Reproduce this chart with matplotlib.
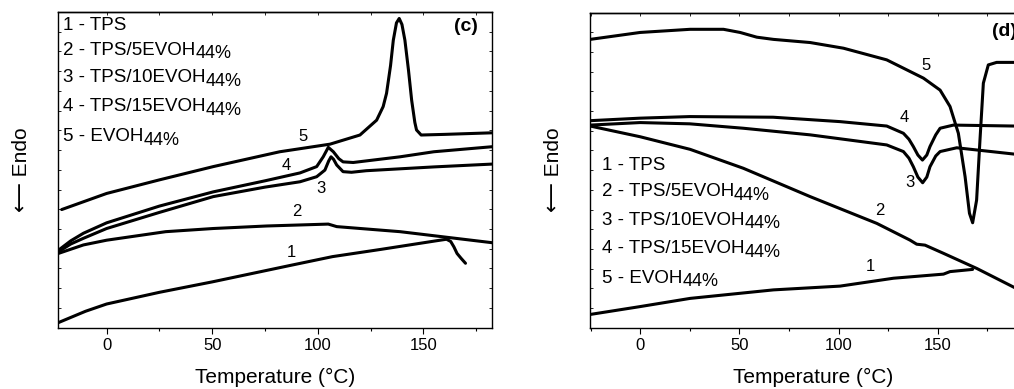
import numpy as np
import matplotlib.pyplot as plt
from matplotlib.ticker import MultipleLocator, FixedLocator, NullFormatter

plt.rcParams['font.family'] = ['Liberation Sans', 'DejaVu Sans']

# ---- panel (c): heating curves (arbitrary heat flow units) ----
c1_t = [-22.9, -10, 0, 25, 50, 87.6, 107, 130, 156, 161, 163, 164.5, 166, 168, 170]
c1_y = [1.6, 5.2, 7.5, 11.2, 14.5, 19.8, 22.5, 24.8, 27.5, 28, 27.3, 25.6, 23.5, 21.9, 20.4]

c2_t = [-22.9, -11, 0, 28, 50.5, 75.8, 105, 109, 139, 182.7]
c2_y = [23.5, 26.2, 27.7, 30.4, 31.4, 32.2, 32.8, 32.0, 30.4, 26.9]

c3_t = [-22.9, -17, -11, 0, 25, 50.5, 75, 91.6, 99.5, 103.4, 105.2, 106.3, 107.5, 109, 112, 116, 123, 155, 182.7]
c3_y = [24.0, 26.5, 28.3, 31.4, 36.5, 41.5, 44.5, 46.2, 47.8, 49.9, 52.8, 54.1, 53.3, 51.5, 49.4, 49.2, 49.7, 50.9, 51.8]

c4_t = [-22.9, -17, -11, 0, 25, 50.5, 75, 91.6, 99.5, 102.6, 105, 107.4, 110, 112, 116.8, 139, 155, 182.7]
c4_y = [24.5, 27.5, 29.9, 33.2, 38.5, 43.0, 46.5, 49.0, 51.0, 54.1, 57.1, 55.7, 53.5, 52.5, 52.3, 54.1, 55.7, 57.3]

c5_t = [-21.3, 0, 25, 50.5, 82, 105.8, 120, 127.9, 131, 132.6, 134.5, 135.8, 137.3, 138.6, 139.9, 141.3, 143, 144.5, 146, 146.8, 149, 160, 182.7]
c5_y = [37.4, 42.5, 46.8, 51.0, 55.7, 58.1, 61.0, 65.7, 70.0, 74.2, 83.0, 91.0, 96.5, 97.9, 96.0, 91.0, 81.5, 72.0, 65.0, 62.6, 61.0, 61.2, 61.7]

# ---- panel (d): cooling curves ----
d1_t = [-25.2, 0, 25.2, 67.2, 100.8, 127.7, 152.9, 156.2, 167.6]
d1_y = [4.2, 6.7, 9.3, 12.0, 13.2, 15.7, 17.0, 17.8, 18.5]

d2_t = [-25.2, 0, 25.2, 52, 85.7, 119.3, 136, 139.4, 143.6, 152.9, 169.7, 188.5, 200]
d2_y = [64.0, 60.6, 56.6, 50.6, 41.6, 33.1, 27.8, 26.5, 26.2, 23.6, 18.8, 12.8, 9.0]

d3_t = [-25.2, 0, 25, 52, 85.7, 124.3, 132.7, 135.5, 137.7, 140, 142.4, 144.5, 146.1, 149, 151.2, 159.6, 188.5, 200]
d3_y = [64.3, 65.1, 64.7, 63.3, 61.2, 58.0, 55.9, 53.8, 51.1, 47.8, 46.0, 47.8, 51.1, 54.5, 55.9, 57.1, 55.1, 54.4]

d4_t = [-25.2, 0, 25, 67, 100.8, 124.3, 132.7, 135.5, 137.7, 140, 142.3, 144.5, 146.1, 149, 151.2, 157.9, 188.5, 200]
d4_y = [65.7, 66.5, 67.0, 66.8, 65.4, 64.0, 61.7, 59.8, 57.5, 54.8, 53.2, 54.8, 57.5, 61.2, 63.3, 64.3, 64.0, 64.0]

d5_t = [-25.2, 0, 25.2, 42, 50.4, 58.8, 67.2, 85.7, 102.5, 124.3, 142.8, 151.2, 156.2, 160.4, 163.8, 166, 167.6, 169.6, 171.3, 173, 175.5, 179.7, 188.5, 200]
d5_y = [91.5, 93.7, 94.7, 94.7, 93.7, 92.2, 91.5, 90.5, 88.7, 85.0, 79.2, 75.4, 70.2, 61.7, 47.9, 36.3, 33.3, 40.5, 59.6, 77.6, 83.4, 84.2, 84.2, 84.2]

legend_main = ['1 - TPS', '2 - TPS/5EVOH', '3 - TPS/10EVOH', '4 - TPS/15EVOH', '5 - EVOH']
legend_sub = ['', '44%', '44%', '44%', '44%']

c_curves = [(c1_t, c1_y), (c2_t, c2_y), (c3_t, c3_y), (c4_t, c4_y), (c5_t, c5_y)]
d_curves = [(d1_t, d1_y), (d2_t, d2_y), (d3_t, d3_y), (d4_t, d4_y), (d5_t, d5_y)]

# curve number labels
c_lab_t = [87.6, 90, 101.4, 85.3, 92.8]
c_lab_y = [23.8, 36.7, 44.1, 51.5, 60.4]
d_lab_t = [116.2, 120.6, 136, 133, 144.1]
d_lab_y = [19.4, 37.1, 46.0, 66.8, 83.2]

c_leg_y = [95.8, 87.9, 79.2, 69.9, 60.4]
d_leg_y = [51.4, 43.1, 34.1, 25.1, 15.7]

fig = plt.figure(figsize=(10.14, 3.89), dpi=100)
ax1 = fig.add_axes([0.0575, 0.1576, 0.428, 0.812])
ax2 = fig.add_axes([0.582, 0.1576, 0.4406, 0.810])


def style(ax, xlim):
    ax.set_xlim(*xlim)
    ax.set_ylim(0, 100)
    ax.xaxis.set_major_locator(FixedLocator([0, 50, 100, 150]))
    ax.xaxis.set_minor_locator(MultipleLocator(25))
    ax.yaxis.set_major_locator(MultipleLocator(6.25))
    ax.yaxis.set_major_formatter(NullFormatter())
    ax.tick_params(axis='x', which='major', direction='out', length=4, width=0.8,
                   labelsize=12, top=False)
    ax.tick_params(axis='x', which='minor', direction='out', length=2.5, width=0.8, top=False)
    ax.tick_params(axis='y', which='major', direction='in', length=2.5, width=0.6,
                   left=True, right=True)
    ax.set_xlabel('Temperature (°C)', fontsize=15, labelpad=11)
    ax.set_ylabel('⟵ Endo', fontsize=15, labelpad=16)
    for s in ax.spines.values():
        s.set_linewidth(1.0)
    sec = ax.secondary_xaxis('top')
    sec.xaxis.set_major_locator(MultipleLocator(25))
    sec.tick_params(direction='in', length=2.5, width=0.6, labeltop=False)
    sec.spines['top'].set_linewidth(1.0)


def legend_text(ax, x, ys):
    for i in range(5):
        t = ax.text(x, ys[i], legend_main[i], fontsize=13.5, ha='left', va='center')
        if legend_sub[i]:
            ax.annotate(legend_sub[i], xy=(1, 0), xycoords=t, xytext=(0, 3.5),
                        textcoords='offset points', fontsize=13, ha='left', va='center')


style(ax1, (-22.9, 182.7))
style(ax2, (-25.2, 200))

for (t, y) in c_curves:
    ax1.plot(t, y, color='black', linewidth=2.2, solid_capstyle='round', solid_joinstyle='round')
for (t, y) in d_curves:
    ax2.plot(t, y, color='black', linewidth=2.2, solid_capstyle='round', solid_joinstyle='round')

for i in range(5):
    ax1.text(c_lab_t[i], c_lab_y[i], str(i + 1), fontsize=12, ha='center', va='center')
    ax2.text(d_lab_t[i], d_lab_y[i], str(i + 1), fontsize=12, ha='center', va='center')

legend_text(ax1, -20.5, c_leg_y)
legend_text(ax2, -19.3, d_leg_y)

ax1.text(176, 95.3, '(c)', fontsize=14, fontweight='bold', ha='right', va='center')
ax2.text(177.5, 94.0, '(d)', fontsize=14, fontweight='bold', ha='left', va='center')

plt.savefig('out.png', dpi=100)
plt.close()
